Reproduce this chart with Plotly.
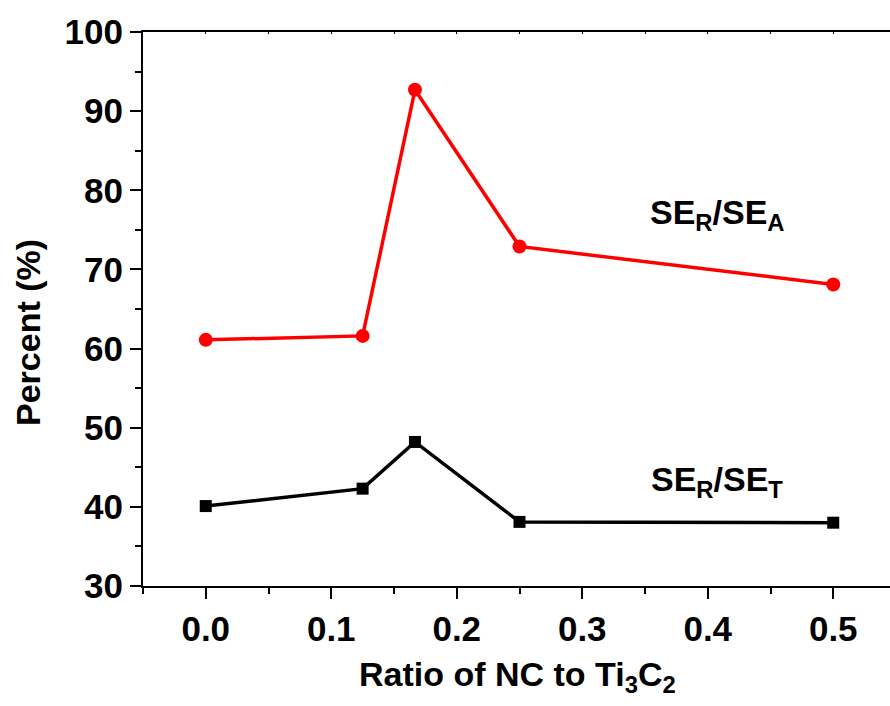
import plotly.graph_objects as go

ratio = [0.0, 0.125, 0.1667, 0.25, 0.5]
se_ra = [61.1, 61.6, 92.7, 72.9, 68.1]
se_rt = [40.1, 42.3, 48.2, 38.1, 38.0]
x_ticks = [0.0, 0.1, 0.2, 0.3, 0.4, 0.5]
x_ticklabels = ["0.0", "0.1", "0.2", "0.3", "0.4", "0.5"]
y_ticks = [30, 40, 50, 60, 70, 80, 90, 100]

FONT = "Liberation Sans, Arial, sans-serif"

# plot area in pixels
L, T, R, B = 143, 32, 890, 586
W, H = R - L, B - T

def px_to_paper(px, py):
    return (px - L) / W, (B - py) / H

fig = go.Figure()
fig.add_trace(go.Scatter(x=ratio, y=se_ra, mode="lines+markers",
                         line=dict(color="#ff0000", width=3.5),
                         marker=dict(symbol="circle", size=14, color="#ff0000"),
                         showlegend=False))
fig.add_trace(go.Scatter(x=ratio, y=se_rt, mode="lines+markers",
                         line=dict(color="#000000", width=3.5),
                         marker=dict(symbol="square", size=12, color="#000000"),
                         showlegend=False))
# dummy trace for top axis
fig.add_trace(go.Scatter(x=[None], y=[None], xaxis="x2", showlegend=False, hoverinfo="skip"))

tickfont = dict(family=FONT, size=35, color="black", weight="bold")

fig.update_layout(
    width=890, height=706,
    margin=dict(l=L, r=0, t=T, b=706 - B),
    paper_bgcolor="white", plot_bgcolor="white",
    font=dict(family=FONT, color="black"),
    xaxis=dict(range=[-0.05, -0.05 + W / 1255], tickvals=x_ticks, ticktext=x_ticklabels,
               ticks="outside", ticklen=11, tickwidth=2, tickcolor="black",
               showline=True, linewidth=2, linecolor="black", showgrid=False, zeroline=False,
               tickfont=tickfont,
               minor=dict(dtick=0.05, ticks="outside", ticklen=6, tickwidth=2, tickcolor="black", showgrid=False)),
    xaxis2=dict(overlaying="x", side="top", matches="x", showticklabels=False,
                tickvals=[-0.05, 0.0, 0.05, 0.1, 0.15, 0.2, 0.25, 0.3, 0.35, 0.4, 0.45, 0.5],
                ticks="inside", ticklen=2, tickwidth=1, tickcolor="black",
                showline=True, linewidth=2, linecolor="black", showgrid=False, zeroline=False),
    yaxis=dict(range=[30, 100], tickvals=y_ticks,
               ticks="outside", ticklen=11, tickwidth=2, tickcolor="black",
               showline=True, linewidth=2, linecolor="black", showgrid=False, zeroline=False,
               tickfont=tickfont,
               minor=dict(dtick=5, ticks="outside", ticklen=6, tickwidth=2, tickcolor="black", showgrid=False)),
)

labfont = dict(family=FONT, size=34, color="black", weight="bold")
fig.add_annotation(x=0.408, y=76.9, xref="x", yref="y", text="SE<sub>R</sub>/SE<sub>A</sub>",
                   showarrow=False, font=labfont, xanchor="center", yanchor="middle")
fig.add_annotation(x=0.407, y=43.2, xref="x", yref="y", text="SE<sub>R</sub>/SE<sub>T</sub>",
                   showarrow=False, font=labfont, xanchor="center", yanchor="middle")
xt, yt = px_to_paper(517, 676)
fig.add_annotation(x=xt, y=yt, xref="paper", yref="paper",
                   text="Ratio of NC to Ti<sub>3</sub>C<sub>2</sub>",
                   showarrow=False, font=labfont, xanchor="center", yanchor="middle")
xt, yt = px_to_paper(28, 333)
fig.add_annotation(x=xt, y=yt, xref="paper", yref="paper",
                   text="Percent (%)", textangle=-90,
                   showarrow=False, font=labfont, xanchor="center", yanchor="middle")

fig.write_html("out.html")
